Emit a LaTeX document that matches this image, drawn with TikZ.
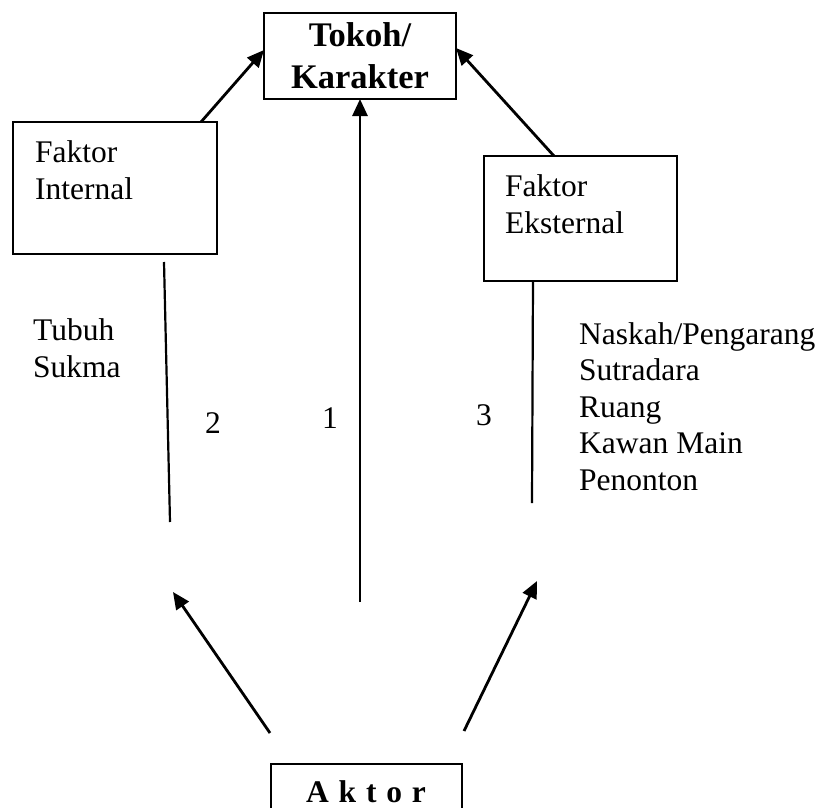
\documentclass[tikz,border=0pt]{standalone}
\usepackage{fontspec}
\setmainfont{Liberation Serif}
\usetikzlibrary{arrows.meta}
\begin{document}
\begin{tikzpicture}[x=1pt,y=-1pt,
  box/.style={draw,line width=2.8pt,inner sep=0pt},
  txt/.style={anchor=base west,inner sep=0pt,font=\fontsize{31.5}{36.5}\selectfont},
  arr/.style={line width=2.8pt,-{Triangle[length=17pt,width=15pt]}},
  plain/.style={line width=2.2pt}]
\useasboundingbox (0,0) rectangle (822,808);
\clip (0,0) rectangle (822,808);
% boxes
\node[box,minimum width=192pt,minimum height=86pt] (top) at (360,56) {};
\node[inner sep=0pt,align=center,font=\fontsize{34.5}{42}\selectfont\bfseries] (toptxt) at (360,56) {Tokoh/\\Karakter};
\node[box,minimum width=204pt,minimum height=132pt] (lbox) at (115,188) {};
\node[txt,align=left] (ltxt) at (35,199) {Faktor\\Internal};
\node[box,minimum width=193pt,minimum height=125pt] (rbox) at (580.5,218.5) {};
\node[txt,align=left] (rtxt) at (505,233) {Faktor\\Eksternal};
\node[box,minimum width=191pt,minimum height=80pt] (aktor) at (366.5,804) {};
\node[inner sep=0pt,anchor=base,font=\fontsize{31.5}{37}\selectfont\bfseries] (aktortxt) at (366,802) {A\hskip9.8pt k\hskip9.8pt t\hskip9.8pt o\hskip9.8pt r};
% side texts
\node[txt,align=left] (inner) at (33,377) {Tubuh\\Sukma};
\node[txt,align=left] (outer) at (579,490) {Naskah/Pengarang\\Sutradara\\Ruang\\Kawan Main\\Penonton};
\node[txt] (n2) at (205,433) {2};
\node[txt] (n1) at (322,428) {1};
\node[txt] (n3) at (476,425) {3};
% connector coordinates
\coordinate (lt) at (201,122);
\coordinate (lt2) at (264,50);
\coordinate (rt) at (554,156);
\coordinate (rt2) at (456,48);
\coordinate (cb) at (360,602);
\coordinate (ct) at (360,99);
\coordinate (lv1) at (164,262);
\coordinate (lv2) at (170,522);
\coordinate (rv1) at (533,281);
\coordinate (rv2) at (532,503);
\coordinate (al) at (270,733);
\coordinate (alt) at (173,592);
\coordinate (ar) at (464,731);
\coordinate (art) at (537,581);
% connectors
\draw[arr] (lt) -- (lt2);
\draw[arr] (rt) -- (rt2);
\draw[arr] (cb) -- (ct);
\draw[plain] (lv1) -- (lv2);
\draw[plain] (rv1) -- (rv2);
\draw[arr] (al) -- (alt);
\draw[arr] (ar) -- (art);
\end{tikzpicture}
\end{document}
